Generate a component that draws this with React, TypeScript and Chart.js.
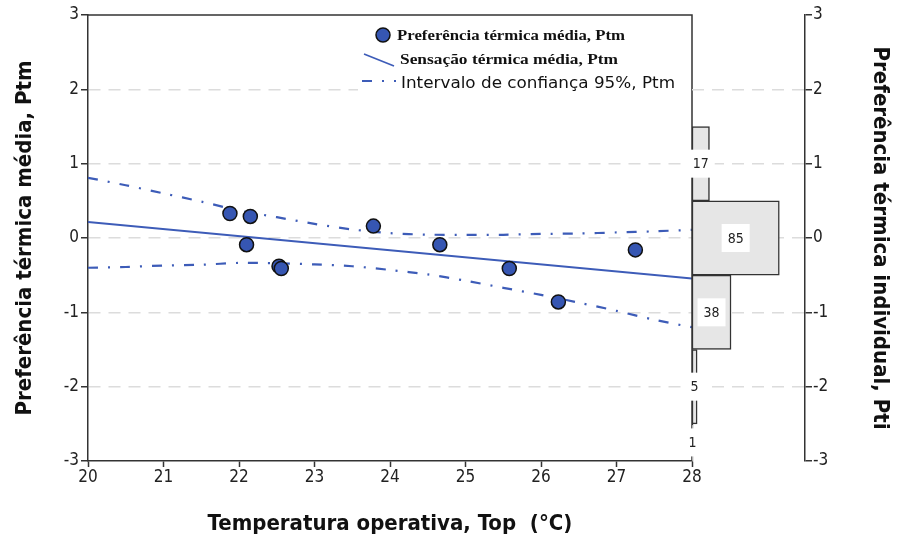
import React, { useEffect, useRef } from "react";
import { Chart, registerables } from "chart.js";

Chart.register(...registerables);

// ---- data ----
const tempPoints: number[] = [21.88, 22.15, 22.1, 22.53, 22.56, 23.78, 24.66, 25.58, 26.23, 27.25];
const ptmPoints: number[] = [0.33, 0.29, -0.09, -0.38, -0.41, 0.16, -0.09, -0.41, -0.86, -0.16];

const fitX: number[] = [20, 28];
const fitY: number[] = [0.215, -0.545];

const ciX: number[] = [20, 20.5, 21, 21.5, 22, 22.5, 23, 23.5, 24, 24.5, 25, 25.5, 26, 26.5, 27, 27.5, 28];
const ciUpper: number[] = [0.81, 0.71, 0.6, 0.49, 0.37, 0.28, 0.19, 0.115, 0.065, 0.045, 0.043, 0.043, 0.055, 0.06, 0.075, 0.09, 0.11];
const ciLower: number[] = [-0.4, -0.39, -0.37, -0.36, -0.335, -0.34, -0.355, -0.38, -0.43, -0.49, -0.575, -0.67, -0.765, -0.87, -0.98, -1.1, -1.2];

const ptiLevels: number[] = [1, 0, -1, -2, -3];
const ptiCounts: number[] = [17, 85, 38, 5, 1];

const xTicks: number[] = [20, 21, 22, 23, 24, 25, 26, 27, 28];
const yTicks: number[] = [-3, -2, -1, 0, 1, 2, 3];

const legendLabels: string[] = [
  "Preferência térmica média, Ptm",
  "Sensação térmica média, Ptm",
  "Intervalo de confiança 95%, Ptm",
];

const xTitle = "Temperatura operativa, Top  (°C)";
const yTitle = "Preferência térmica média, Ptm";
const y2Title = "Preferência térmica individual, Pti";

// ---- styles ----
const W = 901;
const H = 543;
const BLUE = "#3d5cb8";
const POINT_FILL = "#3656b2";
const AXIS = "#333333";
const GRID = "#dcdcdc";
const TICK_FONT = "'DejaVu Sans Condensed', 'Liberation Sans Narrow', sans-serif";
const TITLE_FONT = "'DejaVu Sans Condensed', 'Liberation Sans Narrow', sans-serif";
const CI_DASH = [10, 10, 2, 10];

const gridColor = (ctx: any) => {
  const v = ctx.tick ? ctx.tick.value : 0;
  return Math.abs(v) >= 3 ? "rgba(0,0,0,0)" : GRID;
};

const frameLegendPlugin = {
  id: "frameLegend",
  afterDraw(chart: any) {
    const { ctx, chartArea } = chart;
    const { top, right } = chartArea;
    ctx.save();
    // legend background
    ctx.fillStyle = "#ffffff";
    ctx.fillRect(358, top + 1, right - 358 - 1, 86);
    // top and right frame
    ctx.strokeStyle = AXIS;
    ctx.lineWidth = 1.5;
    ctx.beginPath();
    ctx.moveTo(chartArea.left, top);
    ctx.lineTo(right, top);
    ctx.lineTo(right, chartArea.bottom);
    ctx.stroke();

    // item 1: marker
    ctx.beginPath();
    ctx.arc(383, 35, 7, 0, Math.PI * 2);
    ctx.fillStyle = POINT_FILL;
    ctx.fill();
    ctx.lineWidth = 1.5;
    ctx.strokeStyle = "#111";
    ctx.stroke();
    // item 2: solid line icon
    ctx.beginPath();
    ctx.strokeStyle = BLUE;
    ctx.lineWidth = 1.8;
    ctx.moveTo(364, 54);
    ctx.lineTo(394, 66);
    ctx.stroke();
    // item 3: dash-dot icon
    ctx.beginPath();
    ctx.setLineDash(CI_DASH);
    ctx.lineWidth = 2.2;
    ctx.moveTo(362, 81);
    ctx.lineTo(396, 81);
    ctx.stroke();
    ctx.setLineDash([]);

    ctx.fillStyle = "#111";
    ctx.textBaseline = "middle";
    ctx.textAlign = "left";
    const fit = (text: string, x: number, y: number, target: number) => {
      const w = ctx.measureText(text).width;
      ctx.save();
      ctx.translate(x, y);
      ctx.scale(target / w, 1);
      ctx.fillText(text, 0, 0);
      ctx.restore();
    };
    ctx.font = "bold 15px 'Liberation Serif', 'DejaVu Serif', serif";
    fit(legendLabels[0], 397, 36, 228);
    fit(legendLabels[1], 400, 60, 218);
    ctx.font = "15px 'DejaVu Sans', sans-serif";
    fit(legendLabels[2], 401, 84, 274);
    ctx.restore();
  },
};

const barLabelPlugin = {
  id: "barLabels",
  afterDatasetsDraw(chart: any) {
    const { ctx, chartArea } = chart;
    const meta = chart.getDatasetMeta(0);
    ctx.save();
    ctx.font = "14px 'DejaVu Sans Condensed', 'DejaVu Sans', sans-serif";
    ctx.textAlign = "center";
    ctx.textBaseline = "middle";
    meta.data.forEach((bar: any, i: number) => {
      const props = bar.getProps(["x", "y", "base", "height"], true);
      const cx = (props.x + props.base) / 2;
      const t = Math.max(props.y - props.height / 2, chartArea.top);
      const b = Math.min(props.y + props.height / 2, chartArea.bottom);
      const cy = (t + b) / 2;
      const text = String(ptiCounts[i]);
      const tw = ctx.measureText(text).width;
      const bw = tw + 12;
      const bh = 28;
      ctx.fillStyle = "#ffffff";
      ctx.fillRect(cx - bw / 2, cy - bh / 2, bw, bh);
      ctx.fillStyle = "#222";
      ctx.fillText(text, cx, cy + 1);
    });
    ctx.restore();
  },
};

export default function App() {
  const mainRef = useRef<HTMLCanvasElement>(null);
  const histRef = useRef<HTMLCanvasElement>(null);

  useEffect(() => {
    if (!mainRef.current || !histRef.current) return;

    const main = new Chart(mainRef.current, {
      type: "scatter",
      data: {
        datasets: [
          {
            label: legendLabels[0],
            data: tempPoints.map((x, i) => ({ x, y: ptmPoints[i] })),
            pointRadius: 7,
            pointHoverRadius: 7,
            backgroundColor: POINT_FILL,
            borderColor: "#111",
            borderWidth: 1.5,
            order: 0,
          },
          {
            label: legendLabels[1],
            data: fitX.map((x, i) => ({ x, y: fitY[i] })),
            showLine: true,
            pointRadius: 0,
            borderColor: BLUE,
            borderWidth: 1.8,
            order: 1,
          },
          {
            label: legendLabels[2],
            data: ciX.map((x, i) => ({ x, y: ciUpper[i] })),
            showLine: true,
            pointRadius: 0,
            borderColor: BLUE,
            borderWidth: 2.2,
            borderDash: CI_DASH,
            tension: 0.3,
            order: 2,
          },
          {
            label: legendLabels[2] + " (inferior)",
            data: ciX.map((x, i) => ({ x, y: ciLower[i] })),
            showLine: true,
            pointRadius: 0,
            borderColor: BLUE,
            borderWidth: 2.2,
            borderDash: CI_DASH,
            tension: 0.3,
            order: 2,
          },
        ],
      },
      options: {
        responsive: false,
        animation: false,
        events: [],
        layout: { padding: { top: 15, right: W - 692, left: 0, bottom: 0 } },
        plugins: { legend: { display: false }, tooltip: { enabled: false } },
        scales: {
          x: {
            type: "linear",
            min: 20,
            max: 28,
            afterBuildTicks: (s: any) => {
              s.ticks = xTicks.map((v) => ({ value: v }));
            },
            afterFit: (s: any) => {
              s.height = 82;
            },
            grid: {
              drawOnChartArea: false,
              drawTicks: true,
              tickLength: 6,
              tickColor: AXIS,
              tickWidth: 1.5,
            },
            border: { display: true, color: AXIS, width: 1.5 },
            ticks: {
              color: "#222",
              padding: 0,
              font: { family: TICK_FONT, size: 17 },
              maxRotation: 0,
            },
            title: {
              display: true,
              text: xTitle,
              color: "#111",
              font: { family: TITLE_FONT, size: 22, weight: "bold" },
              padding: { top: 0, bottom: 6 },
            },
          },
          y: {
            type: "linear",
            min: -3,
            max: 3,
            afterBuildTicks: (s: any) => {
              s.ticks = yTicks.map((v) => ({ value: v }));
            },
            afterFit: (s: any) => {
              s.width = 88;
            },
            grid: {
              color: gridColor,
              lineWidth: 1.5,
              drawTicks: true,
              tickLength: 7,
              tickColor: AXIS,
              tickWidth: 1.5,
            },
            border: { display: true, color: AXIS, width: 1.5, dash: [12, 8] },
            ticks: {
              color: "#222",
              padding: 2,
              font: { family: TICK_FONT, size: 17 },
            },
            title: {
              display: true,
              text: yTitle,
              color: "#111",
              font: { family: TITLE_FONT, size: 22, weight: "bold" },
              padding: { top: 12, bottom: 0 },
            },
          },
        },
      },
      plugins: [frameLegendPlugin],
    });

    const hist = new Chart(histRef.current, {
      type: "bar",
      data: {
        datasets: [
          {
            label: "Pti",
            data: ptiLevels.map((y, i) => ({ x: ptiCounts[i], y })),
            backgroundColor: "#e6e6e6",
            borderColor: AXIS,
            borderWidth: 1.5,
            borderSkipped: false,
            categoryPercentage: 1,
            barPercentage: 1,
          },
        ],
      },
      options: {
        indexAxis: "y",
        responsive: false,
        animation: false,
        events: [],
        layout: { padding: { top: 15, left: 692, right: 0, bottom: 82 } },
        plugins: { legend: { display: false }, tooltip: { enabled: false } },
        scales: {
          x: { type: "linear", min: 0, max: 110, display: false },
          y: {
            type: "linear",
            position: "right",
            min: -3,
            max: 3,
            offset: false,
            afterBuildTicks: (s: any) => {
              s.ticks = yTicks.map((v) => ({ value: v }));
            },
            afterFit: (s: any) => {
              s.width = W - 805;
            },
            grid: {
              offset: false,
              color: gridColor,
              lineWidth: 1.5,
              drawTicks: true,
              tickLength: 7,
              tickColor: AXIS,
              tickWidth: 1.5,
            },
            border: { display: true, color: AXIS, width: 1.5, dash: [12, 8] },
            ticks: {
              color: "#222",
              padding: 1,
              font: { family: TICK_FONT, size: 17 },
            },
            title: {
              display: true,
              text: y2Title,
              color: "#111",
              font: { family: TITLE_FONT, size: 22, weight: "bold" },
              padding: { top: 8, bottom: 0 },
            },
          },
        },
      },
      plugins: [barLabelPlugin],
    });

    return () => {
      main.destroy();
      hist.destroy();
    };
  }, []);

  const canvasStyle: React.CSSProperties = { position: "absolute", left: 0, top: 0, width: W, height: H };
  return (
    <div style={{ position: "absolute", left: 0, top: 0, width: W, height: H, background: "#fff" }}>
      <canvas ref={mainRef} width={W} height={H} style={canvasStyle} />
      <canvas ref={histRef} width={W} height={H} style={canvasStyle} />
    </div>
  );
}
